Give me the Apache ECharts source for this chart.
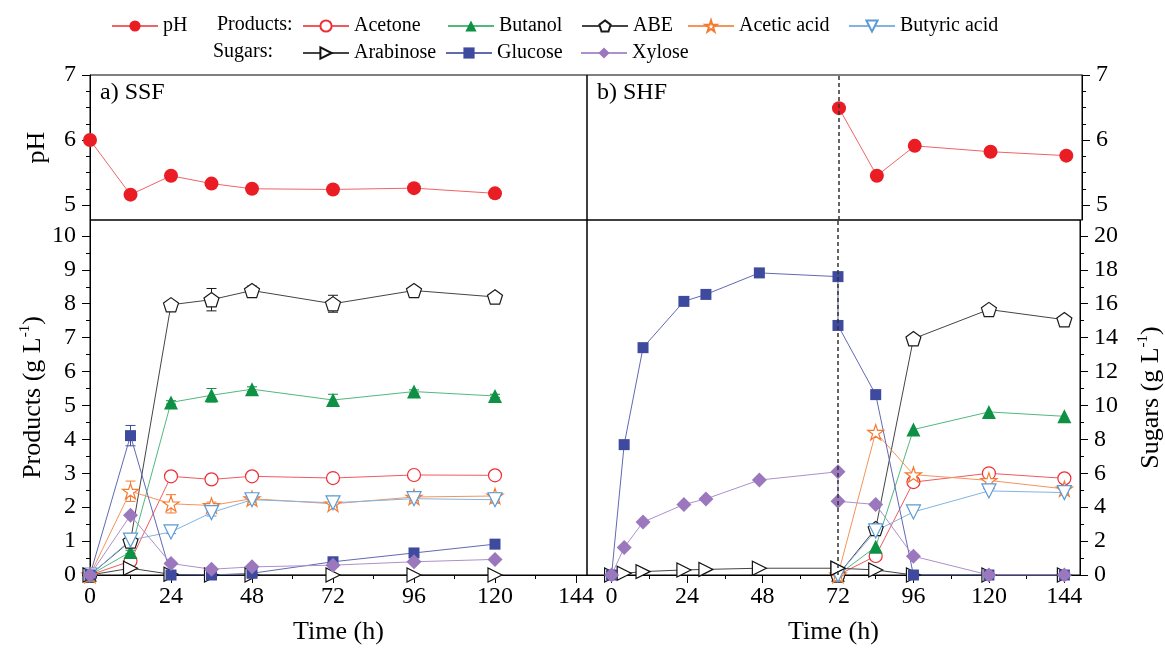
<!DOCTYPE html>
<html>
<head>
<meta charset="utf-8">
<script src="https://cdn.jsdelivr.net/npm/echarts@6/dist/echarts.min.js"></script>
<style>
    html, body {margin: 0; padding: 0; background: #fff;}
    #chart {width: 1165px; height: 650px;}
</style>
</head>
<body>
<div id="chart"></div>
<script type="text/javascript">
    // a) SSF, sampling times (h)
    var ssfTime = [0, 12, 24, 36, 48, 72, 96, 120];
    var ssfPH = [6.0, 5.16, 5.45, 5.33, 5.25, 5.24, 5.26, 5.18];
    var ssfAcetone = [0, 0.41, 2.91, 2.82, 2.91, 2.86, 2.95, 2.94];
    var ssfAcetoneErr = [0, 0.1, 0.1, 0.1, 0.06, 0.06, 0.1, 0.1];
    var ssfButanol = [0, 0.68, 5.09, 5.3, 5.48, 5.16, 5.41, 5.28];
    var ssfButanolErr = [0, 0.05, 0.05, 0.2, 0.07, 0.17, 0.05, 0.05];
    var ssfABE = [0, 1.0, 7.97, 8.12, 8.39, 8.0, 8.39, 8.2];
    var ssfABEErr = [0, 0.1, 0.05, 0.33, 0.13, 0.25, 0.1, 0.1];
    var ssfAcetic = [0, 2.47, 2.1, 2.05, 2.25, 2.1, 2.3, 2.33];
    var ssfAceticErr = [0, 0.3, 0.27, 0.1, 0.07, 0.12, 0.1, 0.1];
    var ssfButyric = [0, 1.03, 1.27, 1.84, 2.22, 2.13, 2.25, 2.22];
    var ssfButyricErr = [0, 0.1, 0.05, 0.1, 0.1, 0.1, 0.1, 0.1];
    var ssfArabinose = [0, 0.2, 0.02, 0, 0, 0, 0, 0];
    var ssfGlucose = [0, 4.11, 0, 0, 0.05, 0.39, 0.65, 0.91];
    var ssfGlucoseErr = [0, 0.3, 0, 0, 0, 0, 0, 0];
    var ssfXylose = [0, 1.76, 0.34, 0.17, 0.24, 0.29, 0.39, 0.46];

    // b) SHF, hydrolysis 0-72 h then fermentation 72-144 h
    var shfSugarTime = [0, 4, 10, 23, 30, 47, 72, 72, 84, 96, 120, 144];
    var shfGlucose = [0, 7.69, 13.41, 16.14, 16.55, 17.82, 17.6, 14.72, 10.64, 0, 0, 0];
    var shfXylose = [0, 1.62, 3.12, 4.16, 4.49, 5.6, 6.09, 4.35, 4.16, 1.11, 0, 0];
    var shfArabinose = [0, 0.1, 0.2, 0.3, 0.33, 0.4, 0.4, 0.4, 0.3, 0, 0, 0];
    var shfFermTime = [72, 84, 96, 120, 144];
    var shfPH = [6.49, 5.45, 5.91, 5.82, 5.76];
    var shfAcetone = [0, 0.56, 2.74, 3.0, 2.85];
    var shfButanol = [0, 0.83, 4.29, 4.81, 4.68];
    var shfABE = [0, 1.37, 6.97, 7.83, 7.53];
    var shfAcetic = [0, 4.21, 2.96, 2.79, 2.54];
    var shfButyric = [0, 1.3, 1.86, 2.48, 2.43];

    // tick labels
    var timeTicks = [0, 24, 48, 72, 96, 120, 144];
    var timeMinor = [12, 36, 60, 84, 108, 132];
    var phTicks = [5, 6, 7];
    var phMinor = [5.25, 5.5, 5.75, 6.25, 6.5, 6.75];
    var productTicks = [0, 1, 2, 3, 4, 5, 6, 7, 8, 9, 10];
    var productMinor = [0.5, 1.5, 2.5, 3.5, 4.5, 5.5, 6.5, 7.5, 8.5, 9.5];
    var sugarTicks = [0, 2, 4, 6, 8, 10, 12, 14, 16, 18, 20];
    var sugarMinor = [1, 3, 5, 7, 9, 11, 13, 15, 17, 19];

    var FONT = "'Liberation Serif', 'Times New Roman', serif";
    var PENTAGON = 'path://M50,2 L97.6,36.6 L79.4,92.5 L20.6,92.5 L2.4,36.6 Z';
    var STAR = 'path://M50,2 L61.2,36.5 L97.6,36.5 L68.2,57.8 L79.4,92.3 L50,71 L20.6,92.3 L31.8,57.8 L2.4,36.5 L38.8,36.5 Z';

    var look = {
        'pH': {symbol: 'circle', size: 14, color: '#ea1d25', line: '#ef6467', fill: true},
        'Acetone': {symbol: 'circle', size: 13, color: '#ee2e35', line: '#f05a5e', fill: false},
        'Butanol': {symbol: 'triangle', size: 14, color: '#0e9145', line: '#52b87c', fill: true},
        'ABE': {symbol: PENTAGON, size: 15, color: '#1a1a1a', line: '#444444', fill: false},
        'Acetic acid': {symbol: STAR, size: 16, color: '#f47a30', line: '#f5935a', fill: false},
        'Butyric acid': {symbol: 'triangle', rotate: 180, size: 14, color: '#5a9ad6', line: '#82b3e3', fill: false},
        'Arabinose': {symbol: 'triangle', rotate: -90, size: 14, color: '#111111', line: '#444444', fill: false},
        'Glucose': {symbol: 'rect', size: 11, color: '#3e4a9e', line: '#6169b3', fill: true},
        'Xylose': {symbol: 'diamond', size: 15, color: '#9b78bd', line: '#ad90cb', fill: true}
    };

    function pairs(xs, ys) {
        return xs.map(function (x, i) { return [x, ys[i]]; });
    }

    function lineSeries(name, xs, ys, xi, yi) {
        var s = look[name];
        return {
            name: name, type: 'line', xAxisIndex: xi, yAxisIndex: yi,
            data: pairs(xs, ys),
            symbol: s.symbol, symbolSize: s.size, symbolRotate: s.rotate || 0, symbolKeepAspect: true,
            showAllSymbol: true,
            itemStyle: s.fill ? {color: s.color} : {color: '#fff', borderColor: s.color, borderWidth: 1.2},
            lineStyle: {color: s.line, width: 1},
            emphasis: {disabled: true}
        };
    }

    function errSeries(name, xs, ys, es, xi, yi) {
        var color = look[name].color;
        var d = [];
        xs.forEach(function (x, i) {
            if (es[i] > 0) d.push([x, ys[i] - es[i], ys[i] + es[i]]);
        });
        return {
            type: 'custom', xAxisIndex: xi, yAxisIndex: yi, data: d, silent: true,
            encode: {x: 0, y: [1, 2]},
            renderItem: function (params, api) {
                var lo = api.coord([api.value(0), api.value(1)]);
                var hi = api.coord([api.value(0), api.value(2)]);
                var st = {stroke: color, lineWidth: 1};
                return {
                    type: 'group', children: [
                        {type: 'line', shape: {x1: lo[0], y1: lo[1], x2: hi[0], y2: hi[1]}, style: st},
                        {type: 'line', shape: {x1: lo[0] - 5, y1: lo[1], x2: lo[0] + 5, y2: lo[1]}, style: st},
                        {type: 'line', shape: {x1: hi[0] - 5, y1: hi[1], x2: hi[0] + 5, y2: hi[1]}, style: st}
                    ]
                };
            }
        };
    }

    var black = {color: '#000', width: 1};
    var nameFont = {
        fontFamily: FONT, fontSize: 26, color: '#000',
        rich: {
            a: {fontFamily: FONT, fontSize: 26, color: '#000', lineHeight: 30},
            s: {fontFamily: FONT, fontSize: 15, color: '#000', lineHeight: 15, verticalAlign: 'top'}
        }
    };

    function majorAxis(grid, min, max, ticks, pos, extra) {
        var ax = {
            gridIndex: grid, type: 'value', min: min, max: max, position: pos,
            splitLine: {show: false},
            axisLine: {show: true, onZero: false, lineStyle: black},
            axisTick: {show: true, customValues: ticks, length: 8, lineStyle: black},
            axisLabel: {customValues: ticks, margin: pos === 'bottom' ? 10 : 14, fontFamily: FONT, fontSize: 24, color: '#000'}
        };
        for (var k in extra) ax[k] = extra[k];
        return ax;
    }

    function minorAxis(grid, min, max, ticks, pos) {
        return {
            gridIndex: grid, type: 'value', min: min, max: max, position: pos,
            splitLine: {show: false},
            axisLine: {show: false, onZero: false},
            axisTick: {show: true, customValues: ticks, length: 4, lineStyle: black},
            axisLabel: {show: false}
        };
    }

    function hiddenAxis(grid, min, max) {
        return {gridIndex: grid, type: 'value', min: min, max: max, show: false,
            axisLine: {onZero: false}, splitLine: {show: false}};
    }

    var timeName = {name: 'Time (h)', nameLocation: 'middle', nameGap: 44, nameTextStyle: nameFont};

    var xAxes = [
        hiddenAxis(0, 0, 147.26),
        hiddenAxis(1, -7.82, 148.97),
        majorAxis(2, 0, 147.26, timeTicks, 'bottom', timeName),
        majorAxis(3, -7.82, 148.97, timeTicks, 'bottom', timeName),
        minorAxis(2, 0, 147.26, timeMinor, 'bottom'),
        minorAxis(3, -7.82, 148.97, timeMinor, 'bottom')
    ];

    var yAxes = [
        majorAxis(0, 4.77, 7, phTicks, 'left', {name: 'pH', nameLocation: 'middle', nameGap: 40, nameTextStyle: nameFont}),
        minorAxis(0, 4.77, 7, phMinor, 'left'),
        majorAxis(1, 4.77, 7, phTicks, 'right', {}),
        minorAxis(1, 4.77, 7, phMinor, 'right'),
        majorAxis(2, 0, 10.47, productTicks, 'left', {
            name: '{a|Products (g L}{s|-1}{a|)}', nameLocation: 'middle', nameGap: 42, nameTextStyle: nameFont
        }),
        minorAxis(2, 0, 10.47, productMinor, 'left'),
        hiddenAxis(3, 0, 10.47),
        majorAxis(3, 0, 20.94, sugarTicks, 'right', {
            name: '{a|Sugars (g L}{s|-1}{a|)}', nameLocation: 'middle', nameGap: 56, nameTextStyle: nameFont
        }),
        minorAxis(3, 0, 20.94, sugarMinor, 'right')
    ];

    var dashed = {
        silent: true, symbol: ['none', 'none'], label: {show: false},
        lineStyle: {type: [4, 3], color: '#333', width: 1.5},
        emphasis: {disabled: true},
        data: [{xAxis: 72}]
    };

    var series = [
        errSeries('Acetone', ssfTime, ssfAcetone, ssfAcetoneErr, 2, 4),
        errSeries('Butanol', ssfTime, ssfButanol, ssfButanolErr, 2, 4),
        errSeries('ABE', ssfTime, ssfABE, ssfABEErr, 2, 4),
        errSeries('Acetic acid', ssfTime, ssfAcetic, ssfAceticErr, 2, 4),
        errSeries('Butyric acid', ssfTime, ssfButyric, ssfButyricErr, 2, 4),
        errSeries('Glucose', ssfTime, ssfGlucose, ssfGlucoseErr, 2, 4),

        lineSeries('pH', ssfTime, ssfPH, 0, 0),
        lineSeries('Acetone', ssfTime, ssfAcetone, 2, 4),
        lineSeries('Butanol', ssfTime, ssfButanol, 2, 4),
        lineSeries('ABE', ssfTime, ssfABE, 2, 4),
        lineSeries('Acetic acid', ssfTime, ssfAcetic, 2, 4),
        lineSeries('Butyric acid', ssfTime, ssfButyric, 2, 4),
        lineSeries('Arabinose', ssfTime, ssfArabinose, 2, 4),
        lineSeries('Glucose', ssfTime, ssfGlucose, 2, 4),
        lineSeries('Xylose', ssfTime, ssfXylose, 2, 4),

        lineSeries('pH', shfFermTime, shfPH, 1, 2),
        lineSeries('Acetone', shfFermTime, shfAcetone, 3, 6),
        lineSeries('Butanol', shfFermTime, shfButanol, 3, 6),
        lineSeries('ABE', shfFermTime, shfABE, 3, 6),
        lineSeries('Acetic acid', shfFermTime, shfAcetic, 3, 6),
        lineSeries('Butyric acid', shfFermTime, shfButyric, 3, 6),
        lineSeries('Arabinose', shfSugarTime, shfArabinose, 3, 7),
        lineSeries('Glucose', shfSugarTime, shfGlucose, 3, 7),
        lineSeries('Xylose', shfSugarTime, shfXylose, 3, 7)
    ];
    series[15].markLine = dashed;
    series[22].markLine = dashed;

    // one legend box per entry, placed like the original
    var legendSpots = [
        ['pH', 111, 16], ['Acetone', 302, 16], ['Butanol', 447, 16], ['ABE', 581, 16],
        ['Acetic acid', 687, 16], ['Butyric acid', 848, 16],
        ['Arabinose', 302, 43], ['Glucose', 445, 43], ['Xylose', 580, 43]
    ];
    var legends = legendSpots.map(function (p) {
        return {
            data: [p[0]], left: p[1], top: p[2], padding: 0,
            itemWidth: 46, itemHeight: 14, selectedMode: false,
            textStyle: {fontFamily: FONT, fontSize: 20, color: '#000'}
        };
    });

    function label(txt, x, y, size) {
        return {
            type: 'text', left: x, top: y, silent: true,
            style: {text: txt, fontFamily: FONT, fontSize: size, fill: '#000'}
        };
    }

    function grid(l, t, w, h) {
        return {left: l, top: t, width: w, height: h, show: true,
            borderColor: '#000', borderWidth: 1, backgroundColor: 'transparent'};
    }

    var myChart = echarts.init(document.getElementById('chart'));
    myChart.setOption({
        animation: false,
        backgroundColor: '#fff',
        textStyle: {fontFamily: FONT},
        grid: [grid(90, 75, 497, 145), grid(587, 75, 495, 145), grid(90, 220, 497, 357), grid(587, 220, 495, 357)],
        xAxis: xAxes,
        yAxis: yAxes,
        legend: legends,
        graphic: [
            label('Products:', 217, 15, 20),
            label('Sugars:', 213, 42, 20),
            label('a) SSF', 100, 81, 24),
            label('b) SHF', 597, 81, 24)
        ],
        series: series
    });
</script>
</body>
</html>
